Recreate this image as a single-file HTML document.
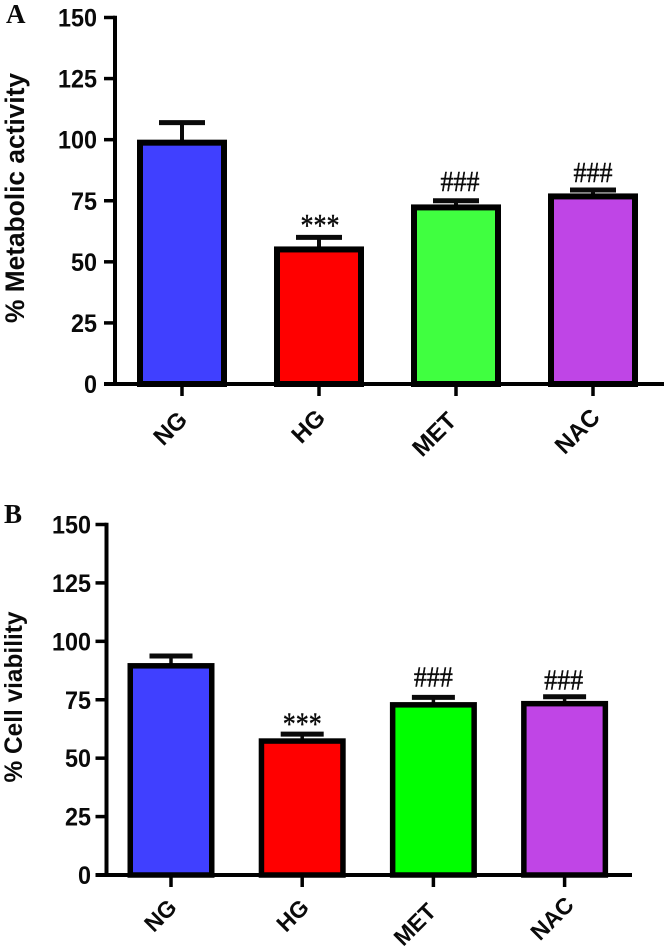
<!DOCTYPE html>
<html lang="en">
<head>
<meta charset="utf-8">
<title>Metabolic activity and cell viability</title>
<style>
html,body{margin:0;padding:0;background:#fff;width:666px;height:948px;overflow:hidden}
svg{display:block}
text{font-family:"Liberation Sans",sans-serif;fill:#0a0a0a}
.serif{font-family:"Liberation Serif",serif}
</style>
</head>
<body>
<svg id="figure" width="666" height="948" viewBox="0 0 666 948" xmlns="http://www.w3.org/2000/svg">
  <text class="serif" x="6" y="23" font-size="27" font-weight="700">A</text>
  <text class="serif" x="4" y="523" font-size="27" font-weight="700">B</text>
</svg>
<script>
const categories = ['NG', 'HG', 'MET', 'NAC'];
const tickLabels = [0, 25, 50, 75, 100, 125, 150];
const metabolicValues = [100, 56.3, 73.5, 78];
const metabolicUpper = [107, 60, 75, 79.4];
const metabolicMarks = ['', '***', '###', '###'];
const viabilityValues = [90.7, 58.5, 74, 74.5];
const viabilityUpper = [93.7, 60.3, 76, 76.3];
const viabilityMarks = ['', '***', '###', '###'];
const metabolicColors = ['#4040ff', '#ff0000', '#40ff40', '#bf45e6'];
const viabilityColors = ['#4040ff', '#ff0000', '#00ff00', '#c045e6'];

const svg = document.getElementById('figure');
const NS = 'http://www.w3.org/2000/svg';

function make(tag, attrs, parent) {
  const el = document.createElementNS(NS, tag);
  Object.keys(attrs).forEach(function (k) { el.setAttribute(k, attrs[k]); });
  parent.appendChild(el);
  return el;
}

function drawChart(c) {
  const g = make('g', {}, svg);
  
  
  const yScale = function (v) { return c.y0 + (c.y150 - c.y0) * v / 150; };
  const xScale = function (i) { return c.x0 + c.step * i; };

  c.values.forEach(function (v, i) {
    const cx = xScale(i);
    const top = yScale(v);
    const capY = yScale(c.upper[i]);

    const stem = make('line', { x1: cx, x2: cx, y1: capY, y2: top + 3, stroke: '#0a0a0a', 'stroke-width': c.stem }, g);
    
    

    const cap = make('line', { x1: cx - c.capW / 2, x2: cx + c.capW / 2, y1: capY, y2: capY, stroke: '#0a0a0a', 'stroke-width': 5 }, g);
    
    

    const bar = make('rect', {
      x: cx - c.barW / 2 + c.sw / 2,
      y: top + c.sw / 2,
      width: c.barW - c.sw,
      height: Math.max(0, c.y0 - top - c.sw / 2),
      fill: c.colors[i],
      stroke: '#000',
      'stroke-width': c.sw
    }, g);
    
    

    const tick = make('line', { x1: cx, x2: cx, y1: c.y0, y2: c.y0 + 12, stroke: '#000', 'stroke-width': 3.5 }, g);
    
    

    const lx = cx + c.labelDx[i];
    const ly = c.y0 + c.labelDy[i];
    const label = make('text', {
      x: lx, y: ly, 'font-size': c.xFont, 'font-weight': 700, 'text-anchor': 'middle',
      transform: 'rotate(-45 ' + lx + ' ' + ly + ')'
    }, g);
    label.textContent = categories[i];
    
    

    if (c.marks[i]) {
      const star = c.marks[i] === '***';
      const mark = make('text', {
        x: cx + c.markDx[i],
        y: capY - c.markUp[i],
        'font-size': star ? 32 : 28,
        'text-anchor': 'middle',
        textLength: 39,
        lengthAdjust: 'spacingAndGlyphs',
        stroke: '#0a0a0a',
        'stroke-width': 0.4,
        'class': 'serif'
      }, g);
      mark.textContent = c.marks[i];
      
      
    }
  });

  tickLabels.forEach(function (t) {
    const y = yScale(t);
    const tk = make('line', { x1: c.axisX - 11, x2: c.axisX, y1: y, y2: y, stroke: '#000', 'stroke-width': 3.5 }, g);
    
    
    const lb = make('text', {
      x: c.axisX - c.labelGap, y: y + 9, 'font-size': 25, 'font-weight': 700, 'text-anchor': 'end',
      textLength: 13 * String(t).length, lengthAdjust: 'spacingAndGlyphs'
    }, g);
    lb.textContent = t;
    
    
  });

  const yAxis = make('line', { x1: c.axisX, x2: c.axisX, y1: yScale(150) - 1.75, y2: c.y0 + 2, stroke: '#000', 'stroke-width': 4 }, g);
  
  

  const xAxis = make('line', { x1: c.axisX - 11, x2: c.xEnd, y1: c.y0, y2: c.y0, stroke: '#000', 'stroke-width': 4 }, g);
  
  

  const title = make('text', {
    x: c.titleX, y: c.titleY, 'font-size': c.titleFont, 'font-weight': 700, 'text-anchor': 'middle',
    textLength: c.titleLen, lengthAdjust: 'spacingAndGlyphs',
    transform: 'rotate(-90 ' + c.titleX + ' ' + c.titleY + ')'
  }, g);
  title.textContent = c.title;
  
  
}

drawChart({
  id: 'metabolic', values: metabolicValues, upper: metabolicUpper, marks: metabolicMarks, colors: metabolicColors,
  y0: 384, y150: 17.5, axisX: 115, xEnd: 664, x0: 182, step: 137, barW: 90, sw: 6, capW: 46, stem: 4,
  labelDx: [-6, -5, -16, -10], labelDy: [50, 48, 56, 53], xFont: 24, labelGap: 18,
  markDx: [0, 1, 4, 0], markUp: [0, 1.5, 9.7, 8],
  title: '% Metabolic activity', titleX: 24, titleY: 198, titleFont: 27, titleLen: 250
});
drawChart({
  id: 'viability', values: viabilityValues, upper: viabilityUpper, marks: viabilityMarks, colors: viabilityColors,
  y0: 875, y150: 524.5, axisX: 106.5, xEnd: 632, x0: 171, step: 131.2, barW: 87, sw: 5.5, capW: 43, stem: 3.5,
  labelDx: [-5, -4, -13, -7], labelDy: [46, 46, 55, 49], xFont: 23, labelGap: 15.5,
  markDx: [0, 0, 0, -1], markUp: [0, -0.5, 11, 7],
  title: '% Cell viability', titleX: 22, titleY: 697, titleFont: 25, titleLen: 171
});
</script>
</body>
</html>
